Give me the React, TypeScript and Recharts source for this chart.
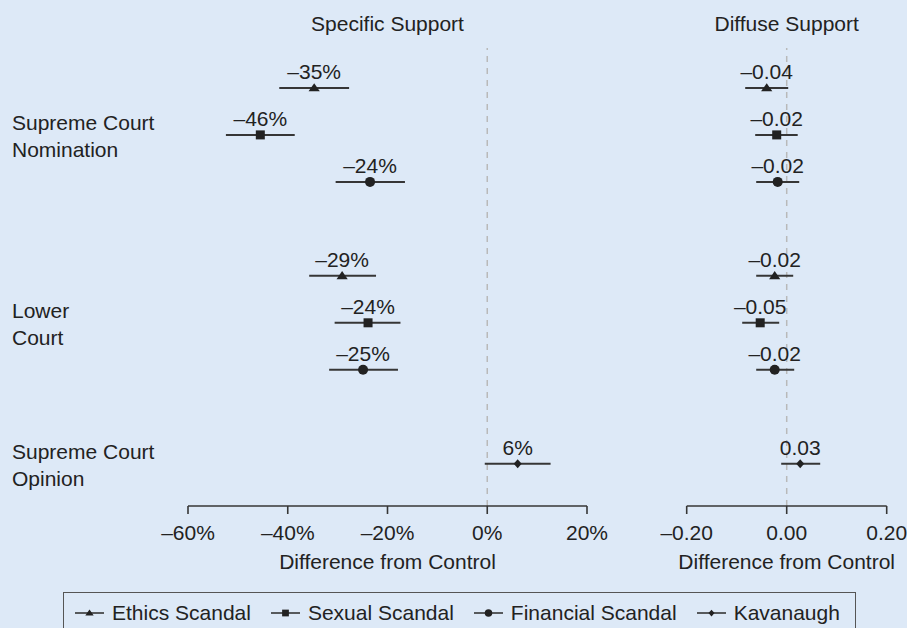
import React from "react";
import {
    ScatterChart, Scatter, XAxis, YAxis, ErrorBar, LabelList,
    ReferenceLine, Legend,
} from "recharts";

// ─── Data ────────────────────────────────────────────────────────────────────

const groups = ["Supreme Court|Nomination", "Lower|Court", "Supreme Court|Opinion"];
const groupRows = [1, 5, 8];

const seriesNames = ["Ethics Scandal", "Sexual Scandal", "Financial Scandal", "Kavanaugh"];
const seriesShapes = ["triangle", "square", "circle", "diamond"] as const;

// row slot of every estimate (top to bottom)
const ethicsRows = [0, 4];
const sexualRows = [1, 5];
const financialRows = [2, 6];
const kavanaughRows = [8];

// Specific support (% difference from control)
const ethicsSpec = [-34.7, -29.1];
const ethicsSpecLo = [-41.7, -35.7];
const ethicsSpecHi = [-27.7, -22.3];
const ethicsSpecLabels = ["–35%", "–29%"];

const sexualSpec = [-45.5, -23.9];
const sexualSpecLo = [-52.4, -30.6];
const sexualSpecHi = [-38.6, -17.4];
const sexualSpecLabels = ["–46%", "–24%"];

const financialSpec = [-23.5, -24.9];
const financialSpecLo = [-30.4, -31.7];
const financialSpecHi = [-16.5, -17.9];
const financialSpecLabels = ["–24%", "–25%"];

const kavanaughSpec = [6.1];
const kavanaughSpecLo = [-0.5];
const kavanaughSpecHi = [12.7];
const kavanaughSpecLabels = ["6%"];

// Diffuse support (difference from control)
const ethicsDiff = [-0.04, -0.024];
const ethicsDiffLo = [-0.083, -0.061];
const ethicsDiffHi = [0.003, 0.013];
const ethicsDiffLabels = ["–0.04", "–0.02"];

const sexualDiff = [-0.02, -0.053];
const sexualDiffLo = [-0.063, -0.089];
const sexualDiffHi = [0.022, -0.015];
const sexualDiffLabels = ["–0.02", "–0.05"];

const financialDiff = [-0.018, -0.024];
const financialDiffLo = [-0.061, -0.061];
const financialDiffHi = [0.025, 0.015];
const financialDiffLabels = ["–0.02", "–0.02"];

const kavanaughDiff = [0.027];
const kavanaughDiffLo = [-0.011];
const kavanaughDiffHi = [0.067];
const kavanaughDiffLabels = ["0.03"];

const specTicks = [-60, -40, -20, 0, 20];
const diffTicks = [-0.2, 0, 0.2];

// ─── Helpers ─────────────────────────────────────────────────────────────────

type Pt = { row: number; est: number; err: [number, number]; label: string };

function build(rows: number[], est: number[], lo: number[], hi: number[], labels: string[]): Pt[] {
    return rows.map((r, i) => ({
        row: r,
        est: est[i],
        err: [est[i] - lo[i], hi[i] - est[i]],
        label: labels[i],
    }));
}

const specSeries = [
    build(ethicsRows, ethicsSpec, ethicsSpecLo, ethicsSpecHi, ethicsSpecLabels),
    build(sexualRows, sexualSpec, sexualSpecLo, sexualSpecHi, sexualSpecLabels),
    build(financialRows, financialSpec, financialSpecLo, financialSpecHi, financialSpecLabels),
    build(kavanaughRows, kavanaughSpec, kavanaughSpecLo, kavanaughSpecHi, kavanaughSpecLabels),
];

const diffSeries = [
    build(ethicsRows, ethicsDiff, ethicsDiffLo, ethicsDiffHi, ethicsDiffLabels),
    build(sexualRows, sexualDiff, sexualDiffLo, sexualDiffHi, sexualDiffLabels),
    build(financialRows, financialDiff, financialDiffLo, financialDiffHi, financialDiffLabels),
    build(kavanaughRows, kavanaughDiff, kavanaughDiffLo, kavanaughDiffHi, kavanaughDiffLabels),
];

const INK = "#222222";
const LINE = "#363636";
const BG = "#dde9f7";
const FONT = "'Liberation Sans', Arial, Helvetica, sans-serif";
const FS = 21;
const ROW_DOMAIN: [number, number] = [-0.85, 8.9];

const fmtPct = (v: number) => `${v < 0 ? "–" : ""}${Math.abs(v)}%`;
const fmtDec = (v: number) => `${v < 0 ? "–" : ""}${Math.abs(v).toFixed(2)}`;

type Kind = (typeof seriesShapes)[number];

function Mark({ cx, cy, kind, k = 1 }: { cx?: number; cy?: number; kind: Kind; k?: number }) {
    if (cx == null || cy == null) return null;
    if (kind === "triangle")
        return <polygon points={`${cx},${cy - 4.8 * k} ${cx + 5.6 * k},${cy + 3.4 * k} ${cx - 5.6 * k},${cy + 3.4 * k}`} fill={INK} />;
    if (kind === "square")
        return <rect x={cx - 4.5 * k} y={cy - 4.5 * k} width={9 * k} height={9 * k} fill={INK} />;
    if (kind === "circle") return <circle cx={cx} cy={cy} r={5 * k} fill={INK} />;
    return <polygon points={`${cx},${cy - 4.5 * k} ${cx + 4 * k},${cy} ${cx},${cy + 4.5 * k} ${cx - 4 * k},${cy}`} fill={INK} />;
}

function RowTick({ y, payload }: { y?: number; payload?: { value: number } }) {
    const idx = groupRows.indexOf(payload?.value ?? -1);
    if (idx < 0 || y == null) return null;
    const [l1, l2] = groups[idx].split("|");
    return (
        <text x={12} y={y} fill={INK} fontSize={FS} textAnchor="start">
            <tspan x={12} y={y - 5}>{l1}</tspan>
            <tspan x={12} y={y + 22.5}>{l2}</tspan>
        </text>
    );
}

function LegendBox() {
    return (
        <div style={{
            boxSizing: "border-box", width: 793, height: 42, border: "1.5px solid #555",
            display: "flex", alignItems: "center", paddingLeft: 11, gap: 20,
            fontFamily: FONT, fontSize: FS, color: INK, whiteSpace: "nowrap",
        }}>
            {seriesNames.map((n, i) => (
                <div key={n} style={{ display: "flex", alignItems: "center" }}>
                    <svg width={30} height={14} style={{ marginRight: 7 }}>
                        <line x1={0} x2={29} y1={7} y2={7} stroke={LINE} strokeWidth={1.6} />
                        <Mark cx={14.5} cy={7} kind={seriesShapes[i]} k={0.75} />
                    </svg>
                    <span>{n}</span>
                </div>
            ))}
        </div>
    );
}

const AXIS_LINE = { stroke: LINE, strokeWidth: 1.6 };
const TICK = { fill: INK, fontSize: FS };

function Panel({ data, domain, ticks, fmt, withRows }: {
    data: Pt[][]; domain: [number, number]; ticks: number[];
    fmt: (v: number) => string; withRows: boolean;
}) {
    return (
        <>
            <XAxis
                type="number" dataKey="est" domain={domain} ticks={ticks} tickFormatter={fmt}
                allowDataOverflow height={74} axisLine={AXIS_LINE} tickLine={AXIS_LINE}
                tickSize={8} tickMargin={11} tick={TICK} interval={0}
                label={{ value: "Difference from Control", position: "insideBottom", offset: 11, fill: INK, fontSize: FS }}
            />
            <YAxis
                type="number" dataKey="row" domain={ROW_DOMAIN} reversed allowDataOverflow
                ticks={withRows ? groupRows : []} hide={!withRows} width={188}
                axisLine={false} tickLine={false} tick={<RowTick />} interval={0}
            />
            <ReferenceLine x={0} stroke="#b9b9b9" strokeWidth={1.5} strokeDasharray="6 6" />
            {data.map((pts, i) => (
                <Scatter
                    key={seriesNames[i]} name={seriesNames[i]} data={pts} isAnimationActive={false}
                    shape={(p: any) => <Mark cx={p.cx} cy={p.cy} kind={seriesShapes[i]} />}
                >
                    <ErrorBar dataKey="err" direction="x" width={0} stroke={LINE} strokeWidth={2} />
                    <LabelList dataKey="label" position="top" offset={4} fill={INK} fontSize={FS} />
                </Scatter>
            ))}
        </>
    );
}

export default function App() {
    return (
        <div style={{
            position: "absolute", left: 0, top: 0, width: 907, height: 628, background: BG,
            overflow: "hidden", fontFamily: FONT, fontSize: FS, color: INK,
        }}>
            <div style={{ position: "absolute", left: 237.5, top: 13, width: 300, textAlign: "center", lineHeight: "21px" }}>
                Specific Support
            </div>
            <div style={{ position: "absolute", left: 636.7, top: 13, width: 300, textAlign: "center", lineHeight: "21px" }}>
                Diffuse Support
            </div>
            <div style={{ position: "absolute", left: 0, top: 0 }}>
                <ScatterChart width={620} height={580} margin={{ top: 48, right: 33, bottom: 0, left: 0 }}>
                    {Panel({ data: specSeries, domain: [-60, 20], ticks: specTicks, fmt: fmtPct, withRows: true })}
                    <Legend
                        layout="horizontal" verticalAlign="middle" align="center"
                        wrapperStyle={{ left: 63, top: 592, width: 793, height: 42 }}
                        content={() => <LegendBox />}
                    />
                </ScatterChart>
            </div>
            <div style={{ position: "absolute", left: 660, top: 0 }}>
                <ScatterChart width={247} height={580} margin={{ top: 48, right: 20.3, bottom: 0, left: 26.7 }}>
                    {Panel({ data: diffSeries, domain: [-0.2, 0.2], ticks: diffTicks, fmt: fmtDec, withRows: false })}
                </ScatterChart>
            </div>
        </div>
    );
}
